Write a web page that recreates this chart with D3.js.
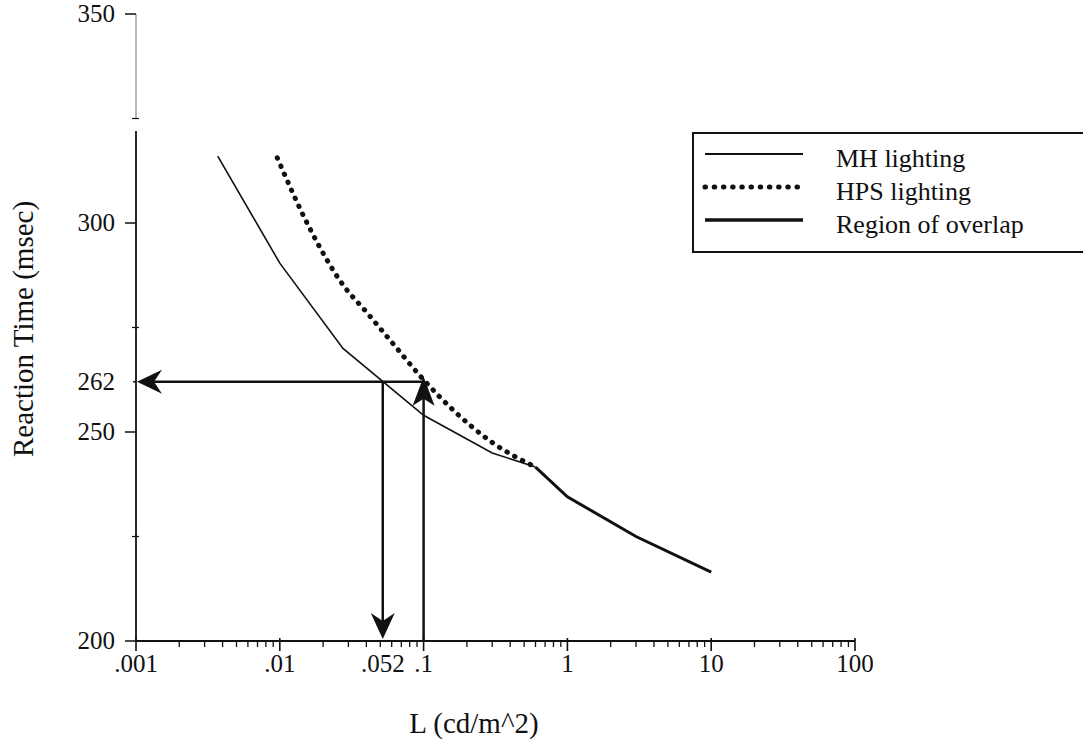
<!DOCTYPE html>
<html>
<head>
<meta charset="utf-8">
<script src="https://cdn.jsdelivr.net/npm/d3@7"></script>
<style>
  body { margin: 0; background: #fff; overflow: hidden; }
  text { font-family: "Liberation Serif", "DejaVu Serif", serif; fill: #111; }
</style>
</head>
<body>
<div id="chart"></div>
<script>
// data
let mhLum = [0.0037, 0.01, 0.0275, 0.1, 0.3, 0.6];
let mhRT = [316, 290.4, 270, 254, 245, 241.6];
let hpsLum = [0.0096, 0.016, 0.0275, 0.04, 0.06, 0.1, 0.16, 0.3, 0.6];
let hpsRT = [315.6, 299, 285.2, 278.7, 271.5, 262.5, 255.3, 247.5, 241.6];
let overlapLum = [0.6, 1, 3, 10];
let overlapRT = [241.6, 234.5, 225, 216.5];
let xTicks = [0.001, 0.01, 0.052, 0.1, 1, 10, 100];
let xTickLabels = [".001", ".01", ".052", ".1", "1", "10", "100"];
let yTicks = [200, 250, 262, 300, 350];
let yMinor = [225, 275, 325];
let legendItems = ["MH lighting", "HPS lighting", "Region of overlap"];
let markLum = 0.052, markLum2 = 0.1, markRT = 262;

let width = 1083, height = 750;
let svg = d3.select("#chart").append("svg")
  .attr("width", width).attr("height", height);

let x = d3.scaleLog().domain([0.001, 100]).range([136, 855]);
let y = d3.scaleLinear().domain([200, 350]).range([641, 14]);

// y axis line: upper part lighter
svg.append("line").attr("x1", x(0.001)).attr("x2", x(0.001))
  .attr("y1", y(350)).attr("y2", y(325))
  .style("stroke", "#777").style("stroke-width", 1);
svg.append("line").attr("x1", x(0.001)).attr("x2", x(0.001))
  .attr("y1", y(322)).attr("y2", y(200))
  .style("stroke", "#111").style("stroke-width", 1.8);

yTicks.forEach(v => {
  svg.append("line").attr("x1", x(0.001) - (v === 262 ? 3 : 11)).attr("x2", x(0.001))
    .attr("y1", y(v)).attr("y2", y(v))
    .style("stroke", "#111").style("stroke-width", 1.5);
  svg.append("text").text(v)
    .attr("x", x(0.001) - 21).attr("y", y(v) + 8)
    .attr("text-anchor", "end").style("font-size", "25px");
});
yMinor.forEach(v => {
  svg.append("line").attr("x1", x(0.001) - 4).attr("x2", x(0.001) + 3)
    .attr("y1", y(v)).attr("y2", y(v))
    .style("stroke", "#111").style("stroke-width", 1.2);
});

// x axis
svg.append("line").attr("x1", x(0.001)).attr("x2", x(100))
  .attr("y1", y(200)).attr("y2", y(200))
  .style("stroke", "#111").style("stroke-width", 2);
let minor = [];
for (let d = 0.001; d < 100; d *= 10) {
  for (let k = 2; k <= 9; k++) minor.push(d * k);
}
minor.forEach(v => {
  svg.append("line").attr("x1", x(v)).attr("x2", x(v))
    .attr("y1", y(200)).attr("y2", y(200) + 6)
    .style("stroke", "#111").style("stroke-width", 1.3);
});
[0.001, 0.01, 0.1, 1, 10, 100].forEach(v => {
  svg.append("line").attr("x1", x(v)).attr("x2", x(v))
    .attr("y1", y(200) - 3).attr("y2", y(200) + 10)
    .style("stroke", "#111").style("stroke-width", 1.6);
});
xTicks.forEach((v, i) => {
  svg.append("text").text(xTickLabels[i])
    .attr("x", x(v)).attr("y", y(200) + 31)
    .attr("text-anchor", "middle").style("font-size", "25px");
});

// axis titles
svg.append("text").text("L (cd/m^2)")
  .attr("x", 474).attr("y", 733)
  .attr("text-anchor", "middle").style("font-size", "29px");
svg.append("text").text("Reaction Time (msec)")
  .attr("transform", "translate(33,329) rotate(-90)")
  .attr("text-anchor", "middle").style("font-size", "29px");

// curves
let line = d3.line().x(d => x(d[0])).y(d => y(d[1]));
let smooth = d3.line().x(d => x(d[0])).y(d => y(d[1])).curve(d3.curveMonotoneX);

svg.append("path").datum(d3.zip(mhLum, mhRT)).attr("d", line)
  .style("fill", "none").style("stroke", "#111").style("stroke-width", 1.6);
svg.append("path").datum(d3.zip(hpsLum, hpsRT)).attr("d", smooth)
  .style("fill", "none").style("stroke", "#111").style("stroke-width", 5)
  .style("stroke-linecap", "round").style("stroke-dasharray", "0.5,8.3");
svg.append("path").datum(d3.zip(overlapLum, overlapRT)).attr("d", line)
  .style("fill", "none").style("stroke", "#111").style("stroke-width", 3);

// arrows
let ax = (x1, y1, x2, y2) => svg.append("line")
  .attr("x1", x1).attr("y1", y1).attr("x2", x2).attr("y2", y2)
  .style("stroke", "#111").style("stroke-width", 2.5);
let head = (pts) => svg.append("path")
  .attr("d", "M" + pts.map(p => p.join(",")).join("L") + "Z")
  .style("fill", "#111");

let yr = y(markRT), xa = x(markLum), xb = x(markLum2), x0 = x(0.001), yb = y(200);
ax(xb, yr, x0 + 10, yr);
head([[x0 + 1, yr], [x0 + 26, yr - 12], [x0 + 18, yr], [x0 + 26, yr + 12]]);
ax(xa, yr, xa, yb - 10);
head([[xa, yb - 2], [xa - 12, yb - 28], [xa, yb - 20], [xa + 12, yb - 28]]);
ax(xb, yb, xb, yr + 10);
head([[xb, yr - 5], [xb - 11, yr + 24], [xb, yr + 17], [xb + 11, yr + 24]]);

// legend
let legend = svg.append("g").attr("id", "legend");
legend.append("rect").attr("x", 693).attr("y", 133).attr("width", 420).attr("height", 119)
  .style("fill", "#fff").style("stroke", "#111").style("stroke-width", 2);
let styles = [
  { w: 1.8, dash: null, cap: "butt" },
  { w: 5, dash: "0.5,8.7", cap: "round" },
  { w: 3.4, dash: null, cap: "butt" }
];
legendItems.forEach((t, i) => {
  let yy = 154 + i * 33;
  legend.append("line").attr("x1", 705).attr("x2", 803).attr("y1", yy).attr("y2", yy)
    .style("stroke", "#111").style("stroke-width", styles[i].w)
    .style("stroke-linecap", styles[i].cap)
    .style("stroke-dasharray", styles[i].dash);
  legend.append("text").text(t).attr("x", 836).attr("y", yy + 13)
    .style("font-size", "26px");
});
</script>
</body>
</html>
